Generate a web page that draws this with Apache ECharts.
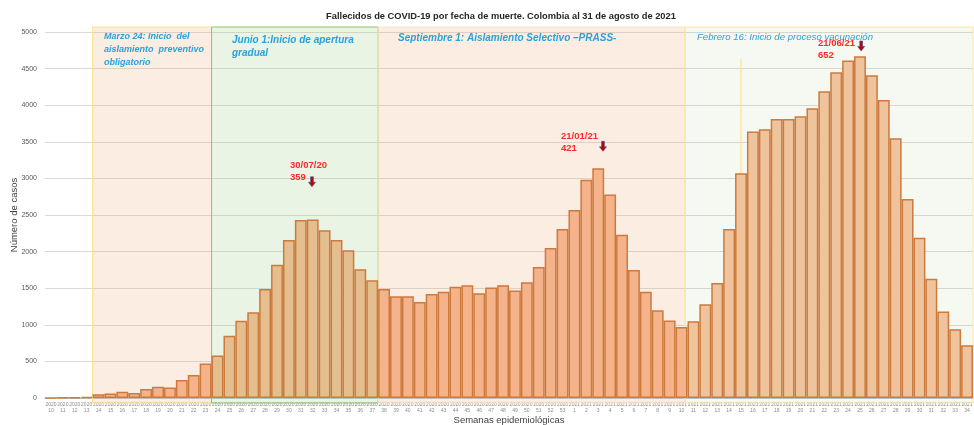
<!DOCTYPE html>
<html>
<head>
<meta charset="utf-8">
<script src="https://cdn.jsdelivr.net/npm/echarts@6/dist/echarts.min.js"></script>
<style>
  html, body { margin: 0; padding: 0; background: #fff; }
  #chart { width: 974px; height: 425px; }
</style>
</head>
<body>
<div id="chart"></div>
<script>
// semanas epidemiologicas
var weeks2020 = [10, 11, 12, 13, 14, 15, 16, 17, 18, 19, 20, 21, 22, 23, 24, 25, 26, 27, 28, 29, 30, 31,
  32, 33, 34, 35, 36, 37, 38, 39, 40, 41, 42, 43, 44, 45, 46, 47, 48, 49, 50, 51, 52, 53];
var weeks2021 = [1, 2, 3, 4, 5, 6, 7, 8, 9, 10, 11, 12, 13, 14, 15, 16, 17, 18, 19, 20, 21, 22, 23, 24,
  25, 26, 27, 28, 29, 30, 31, 32, 33, 34];

// fallecidos por semana
var deaths2020 = [2, 4, 9, 15, 50, 62, 85, 70, 122, 155, 145, 245, 315, 470, 580, 850, 1055, 1170, 1490,
  1820, 2160, 2430, 2440, 2290, 2160, 2020, 1760, 1610, 1490, 1390, 1390, 1310, 1420, 1450, 1520, 1540,
  1430, 1510, 1540, 1470, 1580, 1790, 2050, 2310];
var deaths2021 = [2570, 2980, 3140, 2780, 2230, 1750, 1450, 1200, 1060, 970, 1050, 1280, 1570, 2310, 3070,
  3640, 3670, 3810, 3810, 3850, 3960, 4190, 4450, 4610, 4670, 4410, 4070, 3550, 2720, 2190, 1630, 1180,
  940, 720];

var yMax = 5000;
var yStep = 500;

// periodos (en posiciones de semana) y picos
var periodStart = [4, 14, 28, 53.8];
var periodEnd = [14, 28, 53.8, 78];
var peakPos = [22.44, 46.9, 68.6];
var peakArrowY = [2954, 3438, 4809];

var categories = [];
weeks2020.forEach(function (w) { categories.push("2020\n" + w); });
weeks2021.forEach(function (w) { categories.push("2021\n" + w); });
var deaths = deaths2020.concat(deaths2021);

var NARROW = "'Liberation Sans Narrow', 'Arial Narrow', sans-serif";

var barData = deaths.map(function (v, i) {
  var c = "#F4B38A";
  if (i >= 14 && i < 28) c = "#E4BE8E";
  if (i >= 54) c = "#EFC49C";
  return { value: v, itemStyle: { color: c } };
});

var bandStyles = [
  { color: "rgba(244,177,131,0.23)", borderColor: "#FFE38C" },
  { color: "rgba(169,208,142,0.24)", borderColor: "#8EC56E" },
  { color: "rgba(244,177,131,0.23)", borderColor: "#FCE3C4" },
  { color: "rgba(169,208,142,0.12)", borderColor: "#FFE699" },
];
var bands = periodStart.map(function (s, i) {
  return [
    { xAxis: s, y: 27, itemStyle: { color: bandStyles[i].color, borderColor: bandStyles[i].borderColor, borderWidth: 1 } },
    { xAxis: periodEnd[i], y: 403 },
  ];
});

var arrows = peakPos.map(function (p, i) {
  return { coord: [p, peakArrowY[i]] };
});

var blue = "#27A2DC";
var red = "#FF2A2A";
function note(text, left, top, size, weight, color) {
  return {
    type: "text",
    left: left,
    top: top,
    z: 10,
    style: {
      text: text,
      fill: color,
      fontSize: size,
      fontWeight: weight,
      fontStyle: color === red ? "normal" : "italic",
      fontFamily: NARROW,
      lineHeight: color === red ? 12 : 13,
    },
  };
}

var option = {
  animation: false,
  title: {
    text: "Fallecidos de COVID-19 por fecha de muerte. Colombia al 31 de agosto de 2021",
    left: 496,
    textAlign: "center",
    top: 7,
    textStyle: { fontSize: 9.3, fontWeight: "bold", color: "#262626", fontFamily: NARROW },
  },
  grid: { left: 45, right: 1, top: 32, bottom: 27, containLabel: false, outerBoundsMode: "none" },
  xAxis: [
    {
      type: "category",
      data: categories,
      name: "Semanas epidemiológicas",
      nameLocation: "middle",
      nameGap: 17,
      nameMoveOverlap: false,
      nameTextStyle: { fontSize: 9.5, color: "#404040", fontFamily: NARROW },
      axisLine: { lineStyle: { color: "#BFBFBF" } },
      axisTick: { show: false },
      axisLabel: { interval: 0, fontSize: 5, lineHeight: 6, margin: 4, color: "#8C8C8C" },
    },
    { type: "value", min: 0, max: 78, show: false },
  ],
  yAxis: {
    type: "value",
    min: 0,
    max: yMax,
    interval: yStep,
    name: "Número de casos",
    nameLocation: "middle",
    nameGap: 26,
    nameMoveOverlap: false,
    nameTextStyle: { fontSize: 9.5, color: "#404040", fontFamily: NARROW },
    axisLine: { show: false },
    axisTick: { show: false },
    axisLabel: {
      fontSize: 7,
      fontFamily: NARROW,
      color: "#595959",
      margin: 8,
      formatter: function (v) { return String(v); },
    },
    splitLine: { lineStyle: { color: "#D9D9D9" } },
  },
  series: [
    {
      name: "Fallecidos",
      type: "bar",
      z: 2,
      barCategoryGap: "0%",
      itemStyle: { borderColor: "#CC7A3E", borderWidth: 1.5 },
      data: barData,
    },
    {
      // series auxiliar para periodos, linea y flechas
      type: "line",
      xAxisIndex: 1,
      data: [],
      markArea: { silent: true, z: 1, data: bands },
      markLine: {
        silent: true,
        z: 1,
        symbol: "none",
        label: { show: false },
        lineStyle: { color: "#FFE699", width: 1.5, type: "solid" },
        data: [[{ coord: [58.5, 4630] }, { coord: [58.5, 0] }]],
      },
      markPoint: {
        silent: true,
        symbol: "path://M3,0L7,0L7,6L10,6L5,11L0,6L3,6Z",
        symbolSize: [7, 10],
        itemStyle: { color: "#C00000", borderColor: "#2F5597", borderWidth: 0.6 },
        label: { show: false },
        data: arrows,
      },
    },
  ],
  graphic: [
    note("Marzo 24: Inicio  del\naislamiento  preventivo\nobligatorio", 104, 30, 9, "bold", blue),
    note("Junio 1:Inicio de apertura\ngradual", 232, 34, 10, "bold", blue),
    note("Septiembre 1: Aislamiento Selectivo –PRASS-", 398, 32, 10, "bold", blue),
    note("Febrero 16: Inicio de proceso vacunación", 697, 31, 9.6, "normal", blue),
    note("30/07/20\n359", 290, 159, 9.5, "bold", red),
    note("21/01/21\n421", 561, 130, 9.5, "bold", red),
    note("21/06/21\n652", 818, 37, 9.5, "bold", red),
  ],
};

var chart = echarts.init(document.getElementById("chart"));
chart.setOption(option);
window.addEventListener("resize", function () {
  chart.resize();
});
</script>
</body>
</html>
